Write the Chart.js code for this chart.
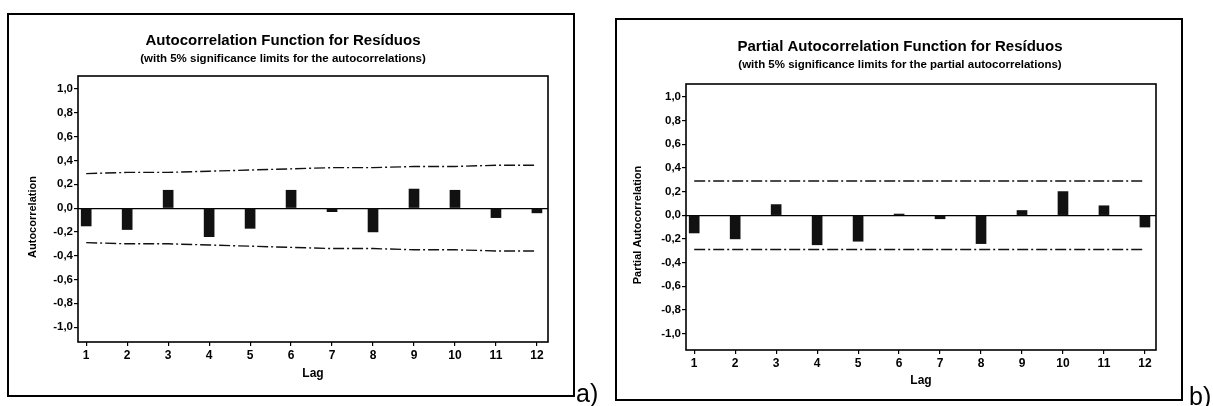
<!DOCTYPE html>
<html>
<head>
<meta charset="utf-8">
<script src="https://cdn.jsdelivr.net/npm/chart.js@4.4.0/dist/chart.umd.min.js"></script>
<style>
  html, body { margin: 0; padding: 0; background: #fff; }
  body { width: 1213px; height: 406px; position: relative; overflow: hidden; }
  .wrap { position: absolute; top: 0; height: 406px; }
  #wA { left: 0; width: 606px; }
  #wB { left: 606px; width: 607px; }
  .tag { position: absolute; font-family: "Liberation Sans Narrow", "Liberation Sans", Arial, sans-serif; font-size: 25px; color: #000; line-height: 1; }
</style>
</head>
<body>
<div class="wrap" id="wA"><canvas id="cA"></canvas></div>
<div class="wrap" id="wB"><canvas id="cB"></canvas></div>
<div class="tag" style="left:576px; top:381px;">a)</div>
<div class="tag" style="left:1189px; top:384px;">b)</div>
<script>
// ---- data ----
const lags = [1, 2, 3, 4, 5, 6, 7, 8, 9, 10, 11, 12];
const lagLabels = ["1", "2", "3", "4", "5", "6", "7", "8", "9", "10", "11", "12"];
const acfValues = [-0.15, -0.18, 0.15, -0.24, -0.17, 0.15, -0.03, -0.20, 0.16, 0.15, -0.08, -0.04];
const acfUpper = [0.29, 0.30, 0.30, 0.31, 0.32, 0.33, 0.34, 0.34, 0.35, 0.35, 0.36, 0.36];
const acfLower = [-0.29, -0.30, -0.30, -0.31, -0.32, -0.33, -0.34, -0.34, -0.35, -0.35, -0.36, -0.36];
const pacfValues = [-0.15, -0.20, 0.09, -0.25, -0.22, 0.01, -0.03, -0.24, 0.04, 0.20, 0.08, -0.10];
const pacfUpper = [0.29, 0.29, 0.29, 0.29, 0.29, 0.29, 0.29, 0.29, 0.29, 0.29, 0.29, 0.29];
const pacfLower = [-0.29, -0.29, -0.29, -0.29, -0.29, -0.29, -0.29, -0.29, -0.29, -0.29, -0.29, -0.29];
const yTickValues = [-1.0, -0.8, -0.6, -0.4, -0.2, 0.0, 0.2, 0.4, 0.6, 0.8, 1.0];
const yTickLabels = ["-1,0", "-0,8", "-0,6", "-0,4", "-0,2", "0,0", "0,2", "0,4", "0,6", "0,8", "1,0"];

const FONT = '"Liberation Sans", Arial, sans-serif';

function decorPlugin(cfg) {
  return {
    id: 'decor',
    afterDraw(chart) {
      const ctx = chart.ctx;
      const a = chart.chartArea;
      ctx.save();
      // outer frame
      ctx.strokeStyle = '#000';
      ctx.lineWidth = 2;
      ctx.strokeRect(cfg.frame[0], cfg.frame[1], cfg.frame[2], cfg.frame[3]);
      // plot border
      ctx.lineWidth = 1.6;
      ctx.strokeRect(a.left, a.top, a.right - a.left, a.bottom - a.top);
      ctx.fillStyle = '#000';
      ctx.textAlign = 'center';
      ctx.textBaseline = 'middle';
      ctx.font = 'bold 15px ' + FONT;
      ctx.fillText(cfg.title, cfg.titleX, cfg.titleY);
      ctx.font = 'bold 11.5px ' + FONT;
      ctx.fillText(cfg.subtitle, cfg.titleX, cfg.subY);
      ctx.font = 'bold 12px ' + FONT;
      ctx.fillText(cfg.xTitle, (a.left + a.right) / 2, cfg.xTitleY);
      ctx.translate(cfg.yTitleX, (a.top + a.bottom) / 2 + 8);
      ctx.rotate(-Math.PI / 2);
      ctx.font = 'bold 11px ' + FONT;
      ctx.fillText(cfg.yTitle, 0, 0);
      ctx.restore();
    }
  };
}

function makeChart(id, values, upper, lower, cfg) {
  const pts = (arr) => lags.map((l, i) => ({ x: l, y: arr[i] }));
  return new Chart(document.getElementById(id), {
    data: {
      datasets: [
        { type: 'bar', data: pts(values), backgroundColor: '#111', borderWidth: 0, barThickness: 10, order: 2 },
        { type: 'line', data: pts(upper), borderColor: '#111', borderWidth: 1.4, borderDash: [11, 3, 2, 3], pointRadius: 0, fill: false, tension: 0, order: 1 },
        { type: 'line', data: pts(lower), borderColor: '#111', borderWidth: 1.4, borderDash: [11, 3, 2, 3], pointRadius: 0, fill: false, tension: 0, order: 1 }
      ]
    },
    options: {
      responsive: true,
      maintainAspectRatio: false,
      animation: false,
      events: [],
      layout: { padding: { left: 0, right: cfg.padRight, top: cfg.padTop, bottom: cfg.padBottom } },
      plugins: { legend: { display: false }, tooltip: { enabled: false }, title: { display: false } },
      scales: {
        x: {
          type: 'linear',
          min: 0.8,
          max: 12.27,
          offset: false,
          afterBuildTicks: (s) => { s.ticks = lags.map(v => ({ value: v })); },
          afterFit: (s) => { s.height = 30; },
          ticks: {
            autoSkip: false, maxRotation: 0, padding: 2,
            color: '#000', font: { family: FONT, size: 12, weight: 'bold' },
            callback: (v) => { const i = lags.indexOf(v); return i >= 0 ? lagLabels[i] : ''; }
          },
          grid: { display: true, offset: false, drawOnChartArea: false, drawTicks: true, tickLength: 4, color: '#000', lineWidth: 1.2 },
          border: { display: false }
        },
        y: {
          type: 'linear',
          min: cfg.yMin,
          max: cfg.yMax,
          afterBuildTicks: (s) => { s.ticks = yTickValues.map(v => ({ value: v })); },
          afterFit: (s) => { s.width = cfg.yAxisWidth; },
          ticks: {
            padding: 1, color: '#000', font: { family: FONT, size: 11.5, weight: 'bold' },
            callback: (v) => { const i = yTickValues.findIndex(t => Math.abs(t - v) < 1e-9); return i >= 0 ? yTickLabels[i] : ''; }
          },
          grid: {
            display: true, offset: false, drawOnChartArea: true, drawTicks: true, tickLength: 4,
            color: (c) => (c.tick && Math.abs(c.tick.value) < 1e-9) ? '#000' : 'rgba(0,0,0,0)',
            tickColor: '#000', lineWidth: 1.2
          },
          border: { display: false }
        }
      }
    },
    plugins: [decorPlugin(cfg)]
  });
}

makeChart('cA', acfValues, acfUpper, acfLower, {
  frame: [8, 14, 566, 382],
  title: 'Autocorrelation Function for Resíduos',
  subtitle: '(with 5% significance limits for the autocorrelations)',
  titleX: 283, titleY: 41, subY: 59,
  xTitle: 'Lag', xTitleY: 374,
  yTitle: 'Autocorrelation', yTitleX: 33,
  yAxisWidth: 78, padRight: 58, padTop: 76, padBottom: 34,
  yMin: -1.125, yMax: 1.11
});

makeChart('cB', pacfValues, pacfUpper, pacfLower, {
  frame: [10, 19, 566, 381],
  title: 'Partial Autocorrelation Function for Resíduos',
  subtitle: '(with 5% significance limits for the partial autocorrelations)',
  titleX: 294, titleY: 47, subY: 65,
  xTitle: 'Lag', xTitleY: 381,
  yTitle: 'Partial Autocorrelation', yTitleX: 32,
  yAxisWidth: 80, padRight: 57, padTop: 84, padBottom: 26,
  yMin: -1.14, yMax: 1.11
});
</script>
</body>
</html>
